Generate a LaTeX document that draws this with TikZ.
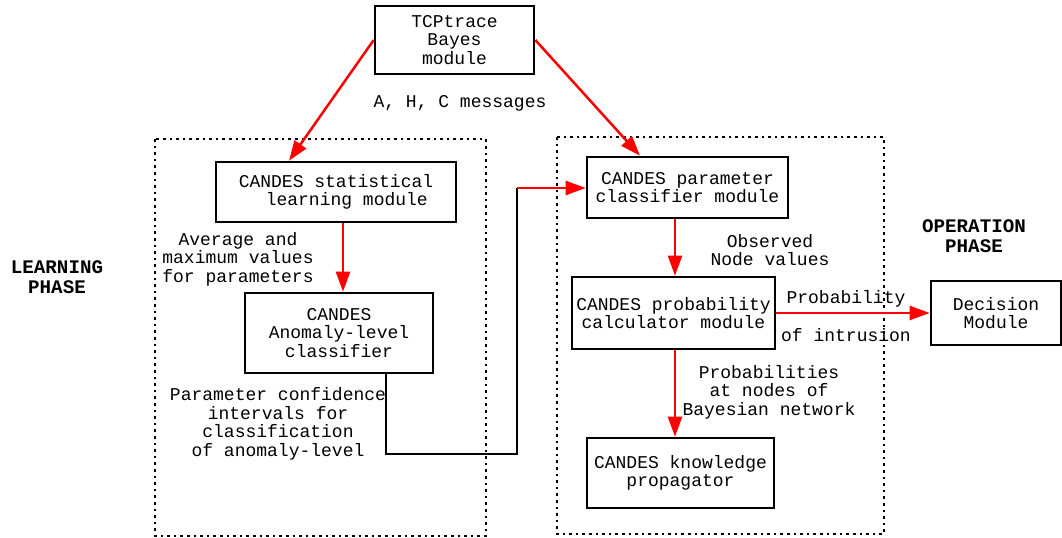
\documentclass[tikz,border=0pt]{standalone}
\usepackage{fontspec}
\setmonofont{Liberation Mono}
\usetikzlibrary{arrows.meta}

\begin{document}
\begin{tikzpicture}[x=0.5pt,y=-0.5pt]
		\tikzstyle{box}=[draw=black,line width=1.3pt,align=center,inner sep=0pt,font=\ttfamily\fontsize{9}{9.3}\selectfont]
		\tikzstyle{lbl}=[align=center,inner sep=0pt,font=\ttfamily\fontsize{9}{9.3}\selectfont]
		\tikzstyle{phase}=[align=center,inner sep=0pt,font=\ttfamily\bfseries\fontsize{9.6}{9.8}\selectfont]
		\tikzstyle{arrow}=[draw=red,line width=1.25pt,-{Triangle[length=10pt,width=7pt]}]
		\tikzstyle{frame}=[draw=black,line width=1.3pt,dotted]

		\useasboundingbox (0,0) rectangle (1062,537);

		% phase frames
		\draw[frame] (155,139) rectangle (486,536);
		\draw[frame] (557,137) rectangle (884,534);

		 \node [box,minimum width=79.5pt,minimum height=34pt] (tcp) at (454.5,40) {TCPtrace\\Bayes\\module};
		 \node [box,minimum width=120pt,minimum height=30pt] (stat) at (336,192) {CANDES statistical\\\hspace*{1.2em}learning module};
		 \node [box,minimum width=94pt,minimum height=40pt] (anom) at (339,333) {CANDES\\Anomaly-level\\classifier};
		 \node [box,minimum width=100.5pt,minimum height=30.5pt] (param) at (687.5,187.5) {CANDES parameter\\classifier module};
		 \node [box,minimum width=101.5pt,minimum height=36pt] (prob) at (673.5,313) {CANDES probability\\calculator module};
		 \node [box,minimum width=93.5pt,minimum height=35pt] (know) at (680.5,473) {CANDES knowledge\\propagator};
		 \node [box,minimum width=65pt,minimum height=32pt] (dec) at (996,313) {Decision\\Module};

		 \node [lbl] (msg) at (460,103) {A, H, C messages};
		 \node [lbl] (avg) at (238,259) {Average and\\maximum values\\for parameters};
		 \node [lbl] (conf) at (278,424) {Parameter confidence\\intervals for\\classification\\of anomaly-level};
		 \node [lbl] (obs) at (770,250) {Observed\\Node values};
		 \node [lbl] (pintr) at (846,299) {Probability};
		 \node [lbl] (ointr) at (846,335) {of intrusion};
		 \node [lbl] (bay) at (769,392) {Probabilities\\at nodes of\\Bayesian network};
		 \node [phase] (learn) at (57,277) {LEARNING\\PHASE};
		 \node [phase] (oper) at (974,236) {OPERATION\\PHASE};

		 \coordinate (low) at (517,454);
		 \coordinate (bend) at (517,188);

		 \path[arrow] (tcp.west) -- ([xshift=-23.5pt]stat.north);
		 \path[arrow] (tcp.east) -- ([xshift=-23.75pt]param.north);
		 \path[arrow] ([xshift=3.5pt]stat.south) -- ([xshift=3.5pt]stat.south |- anom.north);
		 \draw[line width=1.3pt] ([xshift=23.5pt]anom.south) |- (low) -- (bend);
		 \path[arrow] (bend) -- (param.west |- bend);
		 \path[arrow] ([xshift=-6.25pt]param.south) -- ([xshift=-6.25pt]param.south |- prob.north);
		 \path[arrow] (prob.east) -- (dec.west);
		 \path[arrow] ([xshift=0.75pt]prob.south) -- ([xshift=0.75pt]prob.south |- know.north);

\end{tikzpicture}
\end{document}
